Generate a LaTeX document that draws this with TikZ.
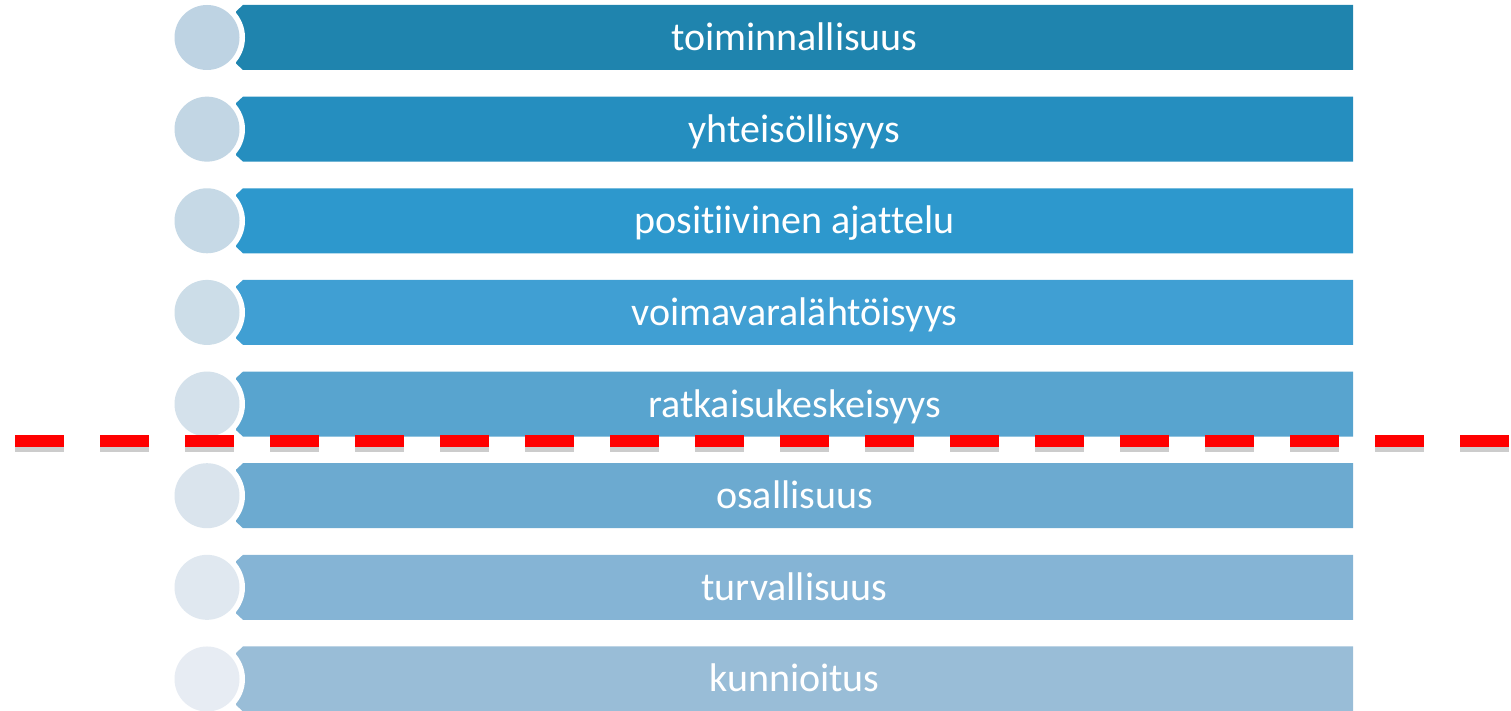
\documentclass[tikz,border=0pt]{standalone}
\usepackage{fontspec}
\setmainfont{Carlito}[Ligatures={NoCommon,NoContextual}]
\usetikzlibrary{positioning}

% palkkien ja pallojen värit
\definecolor{barA}{HTML}{1F84AE}
\definecolor{barB}{HTML}{258EBF}
\definecolor{barC}{HTML}{2D98CD}
\definecolor{barD}{HTML}{409FD3}
\definecolor{barE}{HTML}{58A4CF}
\definecolor{barF}{HTML}{6CAAD0}
\definecolor{barG}{HTML}{85B4D5}
\definecolor{barH}{HTML}{99BDD7}
\definecolor{dotA}{HTML}{BED3E3}
\definecolor{dotB}{HTML}{C2D6E4}
\definecolor{dotC}{HTML}{C6D9E6}
\definecolor{dotD}{HTML}{CCDDE8}
\definecolor{dotE}{HTML}{D4E1EB}
\definecolor{dotF}{HTML}{DAE4ED}
\definecolor{dotG}{HTML}{E0E8F0}
\definecolor{dotH}{HTML}{E7ECF3}
\definecolor{cutred}{HTML}{FF0000}

\begin{document}
\begin{tikzpicture}[x=0.5pt,y=-0.5pt,
  rowtext/.style={text=white,font=\fontsize{20}{24}\selectfont,anchor=base,inner sep=0pt},
  cutline/.style={cutred,line width=6pt,dash pattern=on 24.5pt off 18pt}]
  \useasboundingbox (0,0) rectangle (1511,711);

  % rivit
  \foreach \i/\txt/\bc/\cc in {0/toiminnallisuus/barA/dotA,
      1/yhteisöllisyys/barB/dotB,
      2/positiivinen ajattelu/barC/dotC,
      3/voimavaralähtöisyys/barD/dotD,
      4/ratkaisukeskeisyys/barE/dotE,
      5/osallisuus/barF/dotF,
      6/turvallisuus/barG/dotG,
      7/kunnioitus/barH/dotH} {
    \pgfmathsetmacro\yc{37.5+91.64*\i}
    \fill[\bc] (236,\yc-26) -- (243,\yc-32.5) -- (1353,\yc-32.5)
      -- (1353,\yc+32.5) -- (243,\yc+32.5) -- (236,\yc+26) -- cycle;
    \fill[white] (207,\yc) circle (38);
    \fill[\cc] (207,\yc) circle (32.5);
    \node[rowtext] (row\i) at (794.5,\yc+13) {\txt};
  }

  % raja
  \coordinate (cutL) at (15,441);
  \coordinate (cutR) at (1511,441);
  \draw[cutline,black,opacity=0.2,transform canvas={yshift=-2.5pt}] (cutL) -- (cutR);
  \draw[cutline] (cutL) -- (cutR);
\end{tikzpicture}
\end{document}
